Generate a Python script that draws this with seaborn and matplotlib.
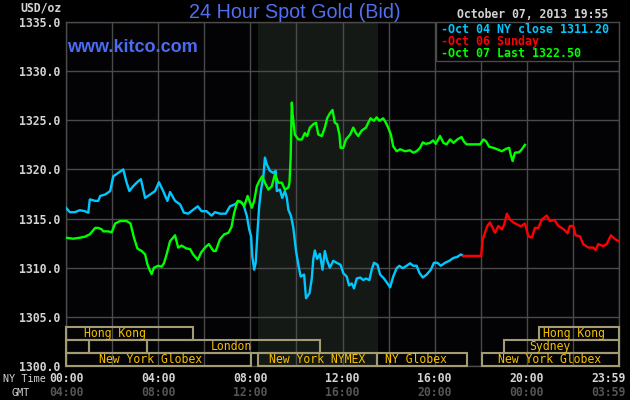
import matplotlib
matplotlib.use("Agg")
import matplotlib.pyplot as plt
from matplotlib.patches import Rectangle
import pandas as pd
import seaborn as sns

# ---------------- data (minutes after midnight NY time, USD/oz) ----------------
oct04_min = [0, 10, 23, 36, 49, 58, 62, 76, 84, 89, 102, 115, 123, 136, 149, 158, 165, 175, 188, 195,
             206, 219, 232, 242, 253, 264, 271, 284, 297, 307, 318, 323, 343, 353, 366, 379, 388, 401,
             416, 427, 440, 450, 462, 471, 477, 482, 485, 490, 494, 499, 503, 508, 514, 518, 523, 531,
             540, 546, 549, 557, 563, 570, 575, 579, 586, 592, 599, 605, 611, 620, 625, 634, 640, 644,
             648, 654, 661, 668, 674, 679, 687, 696, 705, 715, 722, 731, 737, 744, 750, 757, 766, 774,
             781, 790, 796, 802, 811, 818, 828, 837, 844, 852, 861, 868, 877, 887, 896, 904, 913, 920,
             929, 939, 950, 958, 967, 976, 987, 998, 1009, 1019, 1028, 1035]
oct04_val = [1316.1, 1315.65, 1315.65, 1315.85, 1315.75, 1315.6, 1316.95, 1316.8, 1316.8, 1317.3, 1317.45,
             1317.8, 1319.3, 1319.65, 1320.0, 1318.65, 1317.8, 1318.3, 1318.8, 1319.0, 1317.1, 1317.45,
             1317.8, 1318.7, 1317.8, 1316.8, 1317.7, 1316.8, 1316.45, 1315.6, 1315.5, 1315.65, 1316.25,
             1315.75, 1315.75, 1315.3, 1315.65, 1315.5, 1315.5, 1316.25, 1316.45, 1316.8, 1316.45,
             1315.25, 1313.9, 1313.2, 1311.2, 1309.8, 1310.5, 1313.9, 1316.25, 1317.95, 1319.3, 1321.2,
             1320.5, 1319.85, 1319.65, 1319.85, 1317.8, 1317.95, 1317.1, 1317.8, 1317.1, 1315.9,
             1315.25, 1314.05, 1311.7, 1310.3, 1309.1, 1309.3, 1306.9, 1307.4, 1308.9, 1310.9, 1311.75,
             1310.9, 1311.4, 1309.8, 1311.7, 1310.85, 1310.0, 1310.7, 1310.5, 1310.3, 1309.45, 1309.1,
             1308.2, 1308.4, 1307.9, 1308.9, 1309.0, 1308.75, 1308.9, 1308.75, 1309.8, 1310.5, 1310.3,
             1309.3, 1308.9, 1308.4, 1308.0, 1309.1, 1309.95, 1310.2, 1309.95, 1310.2, 1310.45, 1310.2,
             1310.2, 1309.5, 1309.0, 1309.3, 1309.8, 1310.5, 1310.5, 1310.2, 1310.5, 1310.7, 1311.0,
             1311.1, 1311.35, 1311.2]

oct06_min = [1035, 1081, 1085, 1091, 1097, 1104, 1111, 1117, 1126, 1135, 1141, 1148, 1156, 1165, 1175,
             1184, 1195, 1204, 1213, 1221, 1230, 1239, 1252, 1260, 1272, 1282, 1291, 1299, 1306, 1312,
             1321, 1327, 1338, 1347, 1360, 1373, 1379, 1386, 1399, 1408, 1419, 1430, 1439]
oct06_val = [1311.2, 1311.2, 1312.9, 1313.55, 1314.25, 1314.6, 1314.05, 1313.55, 1314.25, 1313.9, 1314.4,
             1315.5, 1314.9, 1314.6, 1314.4, 1314.2, 1314.5, 1313.2, 1313.05, 1314.05, 1314.05, 1314.9,
             1315.3, 1314.75, 1314.85, 1314.25, 1314.05, 1313.8, 1313.5, 1314.25, 1314.25, 1313.3,
             1313.2, 1312.4, 1312.05, 1312.05, 1311.8, 1312.4, 1312.2, 1312.4, 1313.3, 1312.9, 1312.7]

oct07_min = [0, 19, 36, 49, 62, 76, 84, 93, 97, 110, 119, 128, 141, 158, 168, 177, 186, 197, 206, 212,
             217, 223, 229, 240, 249, 255, 262, 271, 284, 292, 301, 314, 323, 331, 343, 352, 362, 372,
             384, 390, 401, 412, 423, 431, 438, 447, 456, 464, 473, 484, 490, 497, 503, 511, 518, 527,
             536, 544, 553, 562, 570, 579, 582, 585, 588, 590, 596, 605, 614, 622, 628, 635, 644, 651,
             657, 666, 674, 680, 687, 694, 700, 706, 712, 715, 722, 729, 740, 748, 755, 761, 770, 781,
             787, 793, 802, 809, 816, 826, 833, 839, 846, 852, 861, 870, 883, 896, 904, 913, 922, 929,
             937, 948, 956, 963, 974, 983, 991, 1000, 1009, 1019, 1030, 1036, 1043, 1062, 1078, 1087,
             1094, 1102, 1113, 1123, 1135, 1146, 1154, 1158, 1163, 1169, 1180, 1187, 1195]
oct07_val = [1313.05, 1312.95, 1313.05, 1313.15, 1313.4, 1314.05, 1314.05, 1313.9, 1313.7, 1313.7,
             1313.6, 1314.5, 1314.75, 1314.75, 1314.5, 1313.05, 1311.95, 1311.7, 1311.35, 1310.35,
             1309.85, 1309.35, 1310.0, 1310.2, 1310.1, 1310.45, 1311.35, 1312.7, 1313.3, 1312.05,
             1312.25, 1311.95, 1311.9, 1311.35, 1310.8, 1311.55, 1312.05, 1312.4, 1311.7, 1311.7,
             1312.9, 1313.4, 1313.55, 1314.15, 1315.6, 1316.8, 1316.7, 1316.25, 1317.3, 1316.1, 1316.8,
             1318.3, 1318.8, 1319.3, 1318.65, 1317.95, 1318.3, 1319.5, 1318.65, 1318.65, 1317.95,
             1318.15, 1318.65, 1321.2, 1326.8, 1325.6, 1323.55, 1323.05, 1323.05, 1323.7, 1323.4,
             1324.25, 1324.6, 1324.75, 1323.55, 1323.4, 1324.25, 1325.2, 1325.7, 1326.05, 1324.75,
             1324.6, 1323.55, 1322.2, 1322.2, 1323.05, 1323.55, 1324.25, 1323.7, 1323.4, 1323.95,
             1324.25, 1324.75, 1325.2, 1324.95, 1325.3, 1324.95, 1325.2, 1324.75, 1324.25, 1323.55,
             1322.35, 1321.85, 1322.05, 1321.85, 1321.95, 1321.7, 1321.85, 1322.2, 1322.75, 1322.6,
             1322.7, 1322.95, 1322.6, 1323.4, 1322.7, 1322.55, 1323.05, 1322.7, 1323.05, 1323.3,
             1322.85, 1322.55, 1322.55, 1322.55, 1323.05, 1322.85, 1322.3, 1322.2, 1322.05, 1321.85,
             1322.1, 1322.2, 1321.5, 1320.85, 1321.7, 1321.75, 1322.05, 1322.5]

legend_labels = ["Oct 04 NY close 1311.20", "Oct 06 Sunday", "Oct 07 Last 1322.50"]
y_ticks = [1300, 1305, 1310, 1315, 1320, 1325, 1330, 1335]
ny_tick_min = [0, 240, 480, 720, 960, 1200, 1439]
ny_tick_labels = ["00:00", "04:00", "08:00", "12:00", "16:00", "20:00", "23:59"]
gmt_tick_labels = ["04:00", "08:00", "12:00", "16:00", "20:00", "00:00", "03:59"]

# market sessions: name, start, end (minutes), row (0 = bottom), label position
session_names = ["Hong Kong", "", "", "London", "Sydney", "Hong Kong",
                 "New York Globex", "New York NYMEX", "NY Globex", "New York Globex"]
session_start = [0, 0, 60, 210, 1140, 1232, 0, 500, 810, 1083]
session_end = [331, 60, 210, 661, 1440, 1440, 482, 810, 1043, 1440]
session_row = [2, 1, 1, 1, 1, 2, 0, 0, 0, 0]
session_label_at = [128, 30, 135, 430, 1259, 1323, 219, 654, 911, 1258]
nymex_span = (500, 812)

title = "24 Hour Spot Gold (Bid)"
stamp = "October 07, 2013 19:55"

# ---------------- styling ----------------
BG = "#000000"
GRID = "#4a4a4a"
MONO = "DejaVu Sans Mono"
SANS = "Liberation Sans"
LIGHT = "#d4d4d4"
c_cyan, c_red, c_green = "#00c8ff", "#ff0000", "#00ff00"

fig = plt.figure(figsize=(6.3, 4.0), dpi=100, facecolor=BG)
W, H = 630.0, 400.0
ax = fig.add_axes([66 / W, 34 / H, 553 / W, 344 / H])
ax.set_facecolor("#030305")

ax.axvspan(*nymex_span, color="#151915", zorder=0, lw=0)

df04 = pd.DataFrame({"t": oct04_min, "v": oct04_val})
df06 = pd.DataFrame({"t": oct06_min, "v": oct06_val})
df07 = pd.DataFrame({"t": oct07_min, "v": oct07_val})
sns.lineplot(data=df04, x="t", y="v", ax=ax, color=c_cyan, lw=1.7, estimator=None, sort=False, zorder=5)
sns.lineplot(data=df06, x="t", y="v", ax=ax, color=c_red, lw=1.7, estimator=None, sort=False, zorder=5)
sns.lineplot(data=df07, x="t", y="v", ax=ax, color=c_green, lw=1.7, estimator=None, sort=False, zorder=6)

ax.set_xlim(0, 1440)
ax.set_ylim(1300, 1335)
ax.set_xticks(range(0, 1441, 120))
ax.set_xticklabels([])
ax.set_yticks(y_ticks)
ax.set_yticklabels([f"{v:.1f}" for v in y_ticks], fontfamily=MONO, fontweight="bold",
                   fontsize=8.3, color=LIGHT)
ax.tick_params(length=0, pad=4)
ax.grid(True, color=GRID, lw=1.0, zorder=1)
ax.set_axisbelow(True)
for s in ax.spines.values():
    s.set_color(GRID)
    s.set_linewidth(1.0)
ax.set_xlabel("")
ax.set_ylabel("")

# sessions
tr = ax.get_xaxis_transform()
row_h = 13 / 344
for name, s0, s1, row, lab in zip(session_names, session_start, session_end, session_row, session_label_at):
    y0 = row * row_h
    ax.add_patch(Rectangle((s0, y0), s1 - s0, row_h, transform=tr, fill=False,
                           edgecolor="#a39c72", lw=1.5, zorder=4, clip_on=False))
    if name:
        ax.text(lab, y0 + row_h / 2, name, transform=tr, ha="center", va="center",
                fontfamily=MONO, fontsize=8.3, color="#f5c000", zorder=7)

# legend box
ax.add_patch(Rectangle(((436 - 66) / 553, (366 - 61) / 344), (619 - 436) / 553, 39 / 344,
                       transform=ax.transAxes, facecolor=BG, edgecolor=GRID, lw=1.0, zorder=8))
for i, (lab, col) in enumerate(zip(legend_labels, [c_cyan, c_red, c_green])):
    fig.text(441 / W, 1 - (29.5 + 12 * i) / H, "-" + lab, ha="left", va="center",
             fontfamily=MONO, fontweight="bold", fontsize=8.4, color=col, zorder=9)

# time axis labels
last = len(ny_tick_min) - 1
for i, (t, ny, gmt) in enumerate(zip(ny_tick_min, ny_tick_labels, gmt_tick_labels)):
    if i == last:
        kw = dict(transform=fig.transFigure, ha="right")
        xpos = 626 / W
        y1, y2 = 1 - 378 / H, 1 - 393 / H
    else:
        kw = dict(transform=tr, ha="center")
        xpos = t
        y1, y2 = -12 / 344, -27 / 344
    ax.text(xpos, y1, ny, va="center", fontfamily=MONO, fontweight="bold", fontsize=8.3,
            color=LIGHT, clip_on=False, **kw)
    ax.text(xpos, y2, gmt, va="center", fontfamily=MONO, fontweight="bold", fontsize=8.3,
            color="#555555", clip_on=False, **kw)
fig.text(3 / W, 1 - 379 / H, "NY Time", ha="left", va="center", fontfamily=MONO,
         fontsize=7.3, color=LIGHT)
fig.text(20.5 / W, 1 - 393 / H, "GMT", ha="center", va="center", fontfamily=MONO,
         fontsize=7.3, color=LIGHT)

# header texts
fig.text(295 / W, 1 - 12 / H, title, ha="center", va="center", fontfamily=SANS,
         fontsize=14.2, color="#5070f0")
fig.text(67 / W, 1 - 48 / H, "www.kitco.com", ha="left", va="center", fontfamily=SANS,
         fontweight="bold", fontsize=13, color="#4a6cf0")
fig.text(608 / W, 1 - 15 / H, stamp, ha="right", va="center", fontfamily=MONO,
         fontweight="bold", fontsize=8.3, color=LIGHT)
fig.text(62 / W, 1 - 8 / H, "USD/oz", ha="right", va="center", fontfamily=MONO,
         fontweight="bold", fontsize=8.3, color=LIGHT)

fig.savefig("out.png", dpi=100, facecolor=BG)
